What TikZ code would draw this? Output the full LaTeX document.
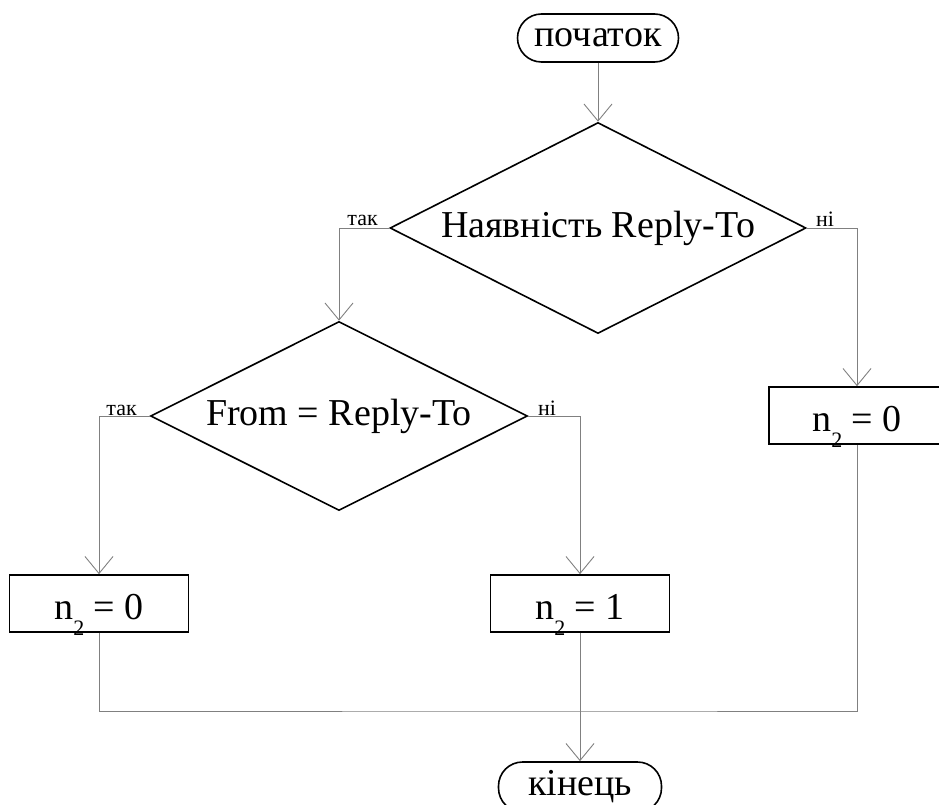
\documentclass[tikz,border=0pt]{standalone}
\usepackage{fontspec}
\setmainfont{Liberation Serif}
\usetikzlibrary{shapes.geometric,arrows.meta}

% subscripted variable n_2 set in text font, index dropped below the baseline
% (smashed, so it does not shift the text inside its box)
\newcommand\ntwo{n\raisebox{-16pt}[0pt][0pt]{\fontsize{22}{22}\selectfont 2}}

\begin{document}
\begin{tikzpicture}[x=1pt,y=-1pt,
  shapeline/.style={draw=black, line width=1.6pt},
  term/.style={shapeline, rectangle, rounded corners=24pt, minimum width=161pt,
    minimum height=48pt, inner sep=0pt, font=\fontsize{38}{42}\selectfont},
  decision/.style={shapeline, diamond, aspect=2, inner sep=0pt,
    font=\fontsize{38}{42}\selectfont},
  proc/.style={shapeline, rectangle, minimum height=57pt, minimum width=179pt,
    inner sep=0pt, text height=31pt, text depth=0pt,
    font=\fontsize{38}{42}\selectfont},
  flow/.style={draw=gray, line width=0.9pt},
  arrowflow/.style={flow, -{Straight Barb[length=17pt,width=28pt,line width=0.9pt]}},
  lbl/.style={font=\fontsize{22}{24}\selectfont, inner sep=0pt}
]
\useasboundingbox (0,0) rectangle (939,805);

% blocks
\node[term] (start) at (598,38) {початок};
\node[decision, minimum width=416pt, minimum height=211pt] (d1) at (598,228) {Наявність Reply-To};
\node[decision, minimum width=377pt, minimum height=189pt] (d2) at (339,416) {From = Reply-To};
\node[proc, minimum width=176pt] (p3) at (857,415.5) {\ntwo{} = 0};
\node[proc] (p1) at (99,603.5) {\ntwo{} = 0};
\node[proc] (p2) at (580,603.5) {\ntwo{} = 1};
\node[term, minimum width=163pt, minimum height=50pt] (end) at (580,787) {кінець};

% branch labels
\node[lbl, anchor=base east] (y1) at (378,225) {так};
\node[lbl, anchor=base west] (n1) at (816,226) {ні};
\node[lbl, anchor=base east] (y2) at (137,415) {так};
\node[lbl, anchor=base west] (n2) at (538,415) {ні};

% connectors
\draw[arrowflow] (start) -- (d1);
\draw[arrowflow] (d1.west) -| (d2.north);
\draw[arrowflow] (d1.east) -| (p3.north);
\draw[arrowflow] (d2.west) -| (p1.north);
\draw[arrowflow] (d2.east) -| (p2.north);
\coordinate (merge) at (580,711);
\draw[flow] (p1.south) |- (merge) -| (p3.south);
\draw[arrowflow] (p2) -- (end);
\end{tikzpicture}
\end{document}
